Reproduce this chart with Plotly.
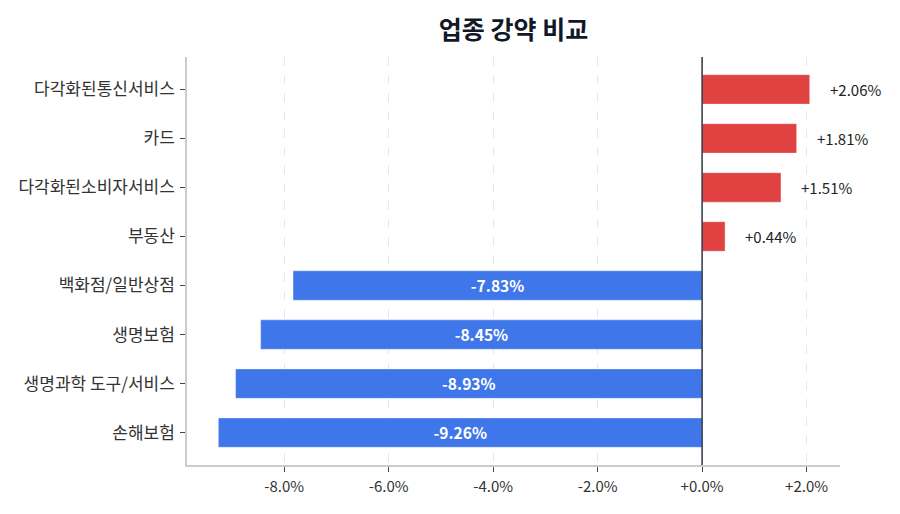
import plotly.graph_objects as go

categories = ["다각화된통신서비스", "카드", "다각화된소비자서비스", "부동산",
              "백화점/일반상점", "생명보험", "생명과학 도구/서비스", "손해보험"]
values = [2.06, 1.81, 1.51, 0.44, -7.83, -8.45, -8.93, -9.26]
tick_vals = [-8, -6, -4, -2, 0, 2]
tick_text = ["-8.0%", "-6.0%", "-4.0%", "-2.0%", "+0.0%", "+2.0%"]

RED = "#E04242"
BLUE = "#3F77EB"
FONT = "Noto Sans CJK KR"

colors = [RED if v >= 0 else BLUE for v in values]
inside_text = [f"{v:+.2f}%" if v < 0 else "" for v in values]

fig = go.Figure()
fig.add_trace(go.Bar(
    y=categories, x=values, orientation="h",
    marker=dict(color=colors, line=dict(width=1, color="rgba(255,255,255,0.35)")),
    width=0.6,
    text=inside_text, textposition="inside", insidetextanchor="middle",
    textfont=dict(color="white", size=16, family=FONT, weight="bold"),
    hoverinfo="skip",
))

for c, v in zip(categories, values):
    if v >= 0:
        fig.add_annotation(x=v, y=c, text=f"{v:+.2f}%", showarrow=False,
                           xanchor="left", xshift=18,
                           font=dict(size=15, color="#222222", family=FONT))

fig.add_shape(type="line", xref="x", yref="paper", x0=0, x1=0, y0=0, y1=1,
              line=dict(color="#2D3748", width=1.5))

fig.update_layout(
    width=900, height=514,
    margin=dict(l=187, r=60, t=57, b=49),
    paper_bgcolor="white", plot_bgcolor="white",
    title=dict(text="<b>업종 강약 비교</b>", x=0.5, xref="paper", xanchor="center",
               y=0.942, yanchor="middle",
               font=dict(size=25, color="#111827", family=FONT)),
    font=dict(family=FONT, size=15, color="#333333"),
    showlegend=False,
    bargap=0.4,
)
fig.update_xaxes(
    range=[-9.86, 2.64], tickvals=tick_vals, ticktext=tick_text,
    showgrid=True, gridcolor="#E5E7EB", griddash="dash", gridwidth=1,
    zeroline=False, showline=True, linecolor="#CCCCCC", linewidth=1.5,
    ticks="outside", ticklen=5, tickcolor="#444444",
    tickfont=dict(size=15, color="#333333"), ticklabelstandoff=2,
)
fig.update_yaxes(
    categoryorder="array", categoryarray=categories[::-1],
    range=[-0.66, 7.66],
    showgrid=False, zeroline=False, showline=True, linecolor="#CCCCCC", linewidth=1.5,
    ticks="outside", ticklen=5, tickcolor="#444444",
    tickfont=dict(size=17, color="#333333"), ticklabelstandoff=2,
)

fig.write_html("out.html")
